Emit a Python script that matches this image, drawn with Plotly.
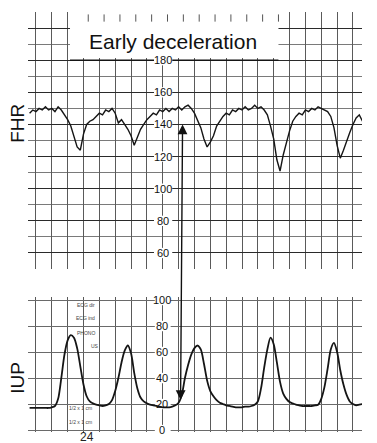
import numpy as np
import plotly.graph_objects as go

# ---- data (time in chart-paper grid units, sampled every 0.2) ----
t_start, t_step = -0.4, 0.2
fhr_values = [147, 149, 148, 150, 149, 151, 149, 150, 148, 151,
              149, 146, 143, 139, 133, 126, 124, 134, 140, 142,
              143, 145, 147, 146, 149, 148, 150, 147, 141, 143,
              140, 137, 133, 127, 132, 137, 140, 143, 145, 147,
              146, 149, 148, 150, 148, 150, 149, 151, 149, 151,
              152, 150, 147, 143, 138, 131, 126, 129, 133, 139,
              142, 145, 147, 146, 149, 148, 150, 149, 151, 149,
              150, 152, 150, 151, 149, 146, 139, 131, 118, 111,
              121, 129, 136, 142, 145, 147, 146, 149, 148, 150,
              149, 151, 150, 149, 148, 145, 138, 127, 119, 124,
              130, 135, 140, 144, 146, 142]
iup_values = [17, 17, 17, 17, 17, 17, 17, 17.5, 18.5, 24,
              40, 58, 69, 73, 71, 63, 49, 35, 26, 22,
              20.5, 19.5, 19, 18.5, 19, 20, 23, 30, 40, 52,
              61, 65, 59, 44, 32, 25, 22, 20.5, 19.5, 19,
              18.5, 18, 17.5, 17.5, 17.5, 18, 19, 21, 27, 40,
              50, 58, 63, 65, 62, 51, 38, 30, 26, 23,
              21, 20, 19, 18.5, 18, 17.5, 17.5, 17.5, 18, 18,
              18.5, 19.5, 22, 32, 48, 62, 71, 66, 52, 37,
              28, 24, 21.5, 20.5, 19.5, 19, 18.5, 18.5, 18.5, 18.5,
              19, 19.5, 24, 33, 47, 62, 67, 60, 46, 35,
              27, 22, 20, 19, 19.5, 20]
fhr_ticks = [60, 80, 100, 120, 140, 160, 180]
iup_ticks = [0, 20, 40, 60, 80, 100]
title_text = "Early deceleration"
channel_labels = ["ECG dir", "ECG ind", "PHONO", "US"]

t_fhr = np.round(t_start + t_step * np.arange(len(fhr_values)), 2)
t_iup = np.round(t_start + t_step * np.arange(len(iup_values)), 2)

FONT = "Liberation Sans, Arial, sans-serif"
INK = "#151515"

fig = go.Figure()
fig.add_trace(go.Scatter(x=t_fhr, y=fhr_values, mode="lines",
                         line=dict(color=INK, width=1.4),
                         xaxis="x", yaxis="y", hoverinfo="skip"))
fig.add_trace(go.Scatter(x=t_iup, y=iup_values, mode="lines",
                         line=dict(color=INK, width=1.8, shape="spline", smoothing=0.8),
                         xaxis="x2", yaxis="y2", hoverinfo="skip"))

xr = [-0.5, 20.57]
common_x = dict(range=xr, showticklabels=False, ticks="", tick0=0, dtick=1,
                showgrid=True, gridcolor="#5a5a5a", gridwidth=1, zeroline=False,
                showline=False, fixedrange=True)
fig.update_layout(
    width=377, height=443,
    margin=dict(l=28, r=15, t=12, b=11),
    paper_bgcolor="white", plot_bgcolor="white",
    showlegend=False,
    xaxis=dict(domain=[0, 1], anchor="y", **common_x),
    xaxis2=dict(domain=[0, 1], anchor="y2", matches="x", **common_x),
    yaxis=dict(domain=[0.388, 1.0], anchor="x", range=[50, 210],
               tick0=0, dtick=20, showticklabels=False, ticks="",
               showgrid=True, gridcolor="#2a2a2a", gridwidth=1.3, zeroline=False,
               minor=dict(dtick=10, tick0=0, showgrid=True, gridcolor="#7a7a7a", gridwidth=1),
               fixedrange=True),
    yaxis2=dict(domain=[0, 0.3214], anchor="x2", range=[-1.5, 102.3],
                tick0=0, dtick=20, showticklabels=False, ticks="",
                showgrid=True, gridcolor="#6a6a6a", gridwidth=1, zeroline=False,
                fixedrange=True),
)

shapes = []
annotations = []

# white title box covering the grid
shapes.append(dict(type="rect", xref="x", yref="y", x0=2.15, x1=15.3, y0=181.3, y1=210,
                   fillcolor="white", line=dict(width=0), layer="between"))
# short ticks along the top of the paper inside the title area
for u in range(3, 16):
    shapes.append(dict(type="line", xref="x", yref="y", x0=u + 0.3, x1=u + 0.3, y0=204, y1=208.5,
                       line=dict(color="#555", width=1), layer="between"))
# line under title box (180)
shapes.append(dict(type="line", xref="x", yref="y", x0=2.15, x1=15.3, y0=180, y1=180,
                   line=dict(color=INK, width=1.6), layer="between"))

# tick labels in the middle of the grid
for v in fhr_ticks:
    shapes.append(dict(type="rect", xref="x", yref="y", x0=7.45, x1=8.6, y0=v - 3.2, y1=v + 3.2,
                       fillcolor="white", line=dict(width=0), layer="between"))
    annotations.append(dict(x=8.02, y=v, xref="x", yref="y", text=str(v), showarrow=False,
                            font=dict(family=FONT, size=11, color="#111")))
for v in iup_ticks:
    shapes.append(dict(type="rect", xref="x2", yref="y2", x0=7.5, x1=8.5, y0=v - 4, y1=v + 4,
                       fillcolor="white", line=dict(width=0), layer="between"))
    annotations.append(dict(x=7.95, y=v, xref="x2", yref="y2", text=str(v), showarrow=False,
                            font=dict(family=FONT, size=11, color="#111")))

# title
annotations.append(dict(x=8.62, y=191.5, xref="x", yref="y", text=title_text, showarrow=False,
                        font=dict(family=FONT, size=21, color="#111")))

# axis names
annotations.append(dict(x=-0.03, y=0.736, xref="paper", yref="paper", text="FHR", textangle=-90,
                        xanchor="center", yanchor="middle",
                        showarrow=False, font=dict(family=FONT, size=19, color="#111")))
annotations.append(dict(x=-0.03, y=0.129, xref="paper", yref="paper", text="IUP", textangle=-90,
                        xanchor="center", yanchor="middle",
                        showarrow=False, font=dict(family=FONT, size=19, color="#111")))

# double headed arrow linking deceleration nadir and contraction
annotations.append(dict(x=9.25, y=140, xref="x", yref="y", text="", showarrow=True,
                        ax=-2, ay=277, axref="pixel", ayref="pixel",
                        arrowhead=2, startarrowhead=2, arrowside="end+start",
                        arrowsize=1.4, startarrowsize=1.4, arrowwidth=1.4, arrowcolor="#111"))

# small channel labels in the IUP panel
ch_y = [96, 86, 75, 65]
ch_x = [3.15, 3.15, 3.15, 3.75]
for txt, xx, yy in zip(channel_labels, ch_x, ch_y):
    annotations.append(dict(x=xx, y=yy, xref="x2", yref="y2", text=txt, showarrow=False,
                            font=dict(family=FONT, size=5, color="#444")))
for yy in [17, 6]:
    annotations.append(dict(x=2.8, y=yy, xref="x2", yref="y2", text="1/2 x 1 cm", showarrow=False,
                            font=dict(family=FONT, size=5, color="#444")))
annotations.append(dict(x=(87 - 28) / 334, y=-0.012, xref="paper", yref="paper", text="24",
                        xanchor="center", yanchor="middle", showarrow=False,
                        font=dict(family=FONT, size=12, color="#222")))

fig.update_layout(shapes=shapes, annotations=annotations)
fig.write_html("out.html", config={"displayModeBar": False},
               post_script="document.body.style.margin='0';document.body.style.overflow='hidden';")
